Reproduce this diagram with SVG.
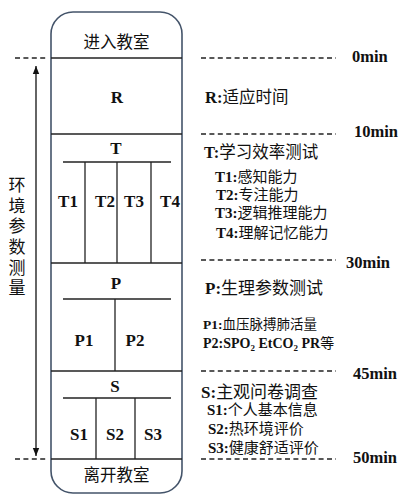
<svg xmlns="http://www.w3.org/2000/svg" width="400" height="495" viewBox="0 0 400 495">
<style>
.ln{stroke:#222;stroke-width:1.3;fill:none}
.dash{stroke:#222;stroke-width:1.4;stroke-dasharray:5 3.4;fill:none}
.t{font-family:"Liberation Serif","Noto Sans CJK SC",serif;fill:#111}
.b{font-weight:bold}
.c{text-anchor:middle}
</style>
<defs>
<marker id="ah" viewBox="0 0 10 10" refX="10" refY="5" markerWidth="8" markerHeight="8" markerUnits="userSpaceOnUse" orient="auto-start-reverse">
<path d="M0,1 L10,5 L0,9 Z" fill="#111"/>
</marker>
</defs>
<rect x="0" y="0" width="400" height="495" fill="#fff"/>
<g id="frame">
<rect x="51" y="12" width="131" height="481" rx="22" ry="22" fill="#fff" stroke="#44546a" stroke-width="1.6"/>
</g>
<g id="connectors">
<line class="ln" x1="51" y1="58" x2="182" y2="58"/>
<line class="ln" x1="51" y1="134" x2="182" y2="134"/>
<line class="ln" x1="51" y1="263" x2="182" y2="263"/>
<line class="ln" x1="51" y1="371" x2="182" y2="371"/>
<line class="ln" x1="51" y1="459" x2="182" y2="459"/>
<line class="ln" x1="63" y1="162" x2="171" y2="162"/>
<line class="ln" x1="85" y1="162" x2="85" y2="263"/>
<line class="ln" x1="117" y1="162" x2="117" y2="263"/>
<line class="ln" x1="151" y1="162" x2="151" y2="263"/>
<line class="ln" x1="63" y1="299" x2="171" y2="299"/>
<line class="ln" x1="115" y1="299" x2="115" y2="371"/>
<line class="ln" x1="63" y1="398" x2="171" y2="398"/>
<line class="ln" x1="96" y1="398" x2="96" y2="459"/>
<line class="ln" x1="135" y1="398" x2="135" y2="459"/>
<line stroke="#111" stroke-width="1.3" x1="36" y1="66" x2="36" y2="456" marker-start="url(#ah)" marker-end="url(#ah)"/>
<line class="dash" x1="15" y1="58" x2="47" y2="58"/>
<line class="dash" x1="15" y1="459" x2="47" y2="459"/>
<line class="dash" x1="201" y1="58" x2="336" y2="58"/>
<line class="dash" x1="201" y1="134" x2="336" y2="134"/>
<line class="dash" x1="201" y1="260" x2="336" y2="260"/>
<line class="dash" x1="201" y1="371" x2="336" y2="371"/>
<line class="dash" x1="201" y1="459" x2="336" y2="459"/>
</g>
<g id="enter"><text class="t c" x="116.5" y="48" font-size="16.5">进入教室</text></g>
<g id="R"><text class="t b c" x="117" y="103" font-size="17">R</text></g>
<g id="T"><text class="t b c" x="116" y="154" font-size="17">T</text></g>
<g id="T1"><text class="t b c" x="68" y="207" font-size="17">T1</text></g>
<g id="T2"><text class="t b c" x="105" y="207" font-size="17">T2</text></g>
<g id="T3"><text class="t b c" x="134" y="207" font-size="17">T3</text></g>
<g id="T4"><text class="t b c" x="170" y="207" font-size="17">T4</text></g>
<g id="P"><text class="t b c" x="116" y="289" font-size="17">P</text></g>
<g id="P1"><text class="t b c" x="84" y="346" font-size="17">P1</text></g>
<g id="P2"><text class="t b c" x="135" y="346" font-size="17">P2</text></g>
<g id="S"><text class="t b c" x="115" y="392" font-size="17">S</text></g>
<g id="S1"><text class="t b c" x="79" y="440" font-size="17">S1</text></g>
<g id="S2"><text class="t b c" x="115" y="440" font-size="17">S2</text></g>
<g id="S3"><text class="t b c" x="153" y="440" font-size="17">S3</text></g>
<g id="leave"><text class="t c" x="116.5" y="481" font-size="16.5">离开教室</text></g>
<g id="env">
<text class="t c" x="17" y="191" font-size="17">环</text>
<text class="t c" x="17" y="212" font-size="17">境</text>
<text class="t c" x="17" y="232" font-size="17">参</text>
<text class="t c" x="17" y="253" font-size="17">数</text>
<text class="t c" x="17" y="274" font-size="17">测</text>
<text class="t c" x="17" y="294" font-size="17">量</text>
</g>
<g id="times" class="t b" font-size="16.5">
<text class="t b" x="352" y="62">0min</text>
<text class="t b" x="354" y="137">10min</text>
<text class="t b" x="346" y="268">30min</text>
<text class="t b" x="353" y="379">45min</text>
<text class="t b" x="353" y="463">50min</text>
</g>
<g id="legend">
<text class="t" x="205" y="103" font-size="16.5"><tspan class="b">R:</tspan>适应时间</text>
<text class="t" x="204" y="158" font-size="16.5"><tspan class="b">T:</tspan>学习效率测试</text>
<text class="t" x="215" y="182" font-size="15"><tspan class="b">T1:</tspan>感知能力</text>
<text class="t" x="216" y="200" font-size="15"><tspan class="b">T2:</tspan>专注能力</text>
<text class="t" x="215" y="218" font-size="15"><tspan class="b">T3:</tspan>逻辑推理能力</text>
<text class="t" x="216" y="238" font-size="15"><tspan class="b">T4:</tspan>理解记忆能力</text>
<text class="t" x="205" y="294" font-size="17"><tspan class="b">P:</tspan>生理参数测试</text>
<text class="t" x="203" y="329" font-size="13.5"><tspan class="b">P1:</tspan>血压脉搏肺活量</text>
<text class="t b" x="203" y="348" font-size="14">P2:SPO<tspan font-size="9" dy="3">2</tspan><tspan dy="-3"> EtCO</tspan><tspan font-size="9" dy="3">2</tspan><tspan dy="-3"> PR</tspan><tspan font-weight="normal">等</tspan></text>
<text class="t" x="201" y="398" font-size="17"><tspan class="b">S:</tspan>主观问卷调查</text>
<text class="t" x="207" y="415" font-size="15"><tspan class="b">S1:</tspan>个人基本信息</text>
<text class="t" x="208" y="434" font-size="15"><tspan class="b">S2:</tspan>热环境评价</text>
<text class="t" x="208" y="453" font-size="15"><tspan class="b">S3:</tspan>健康舒适评价</text>
</g>
</svg>
